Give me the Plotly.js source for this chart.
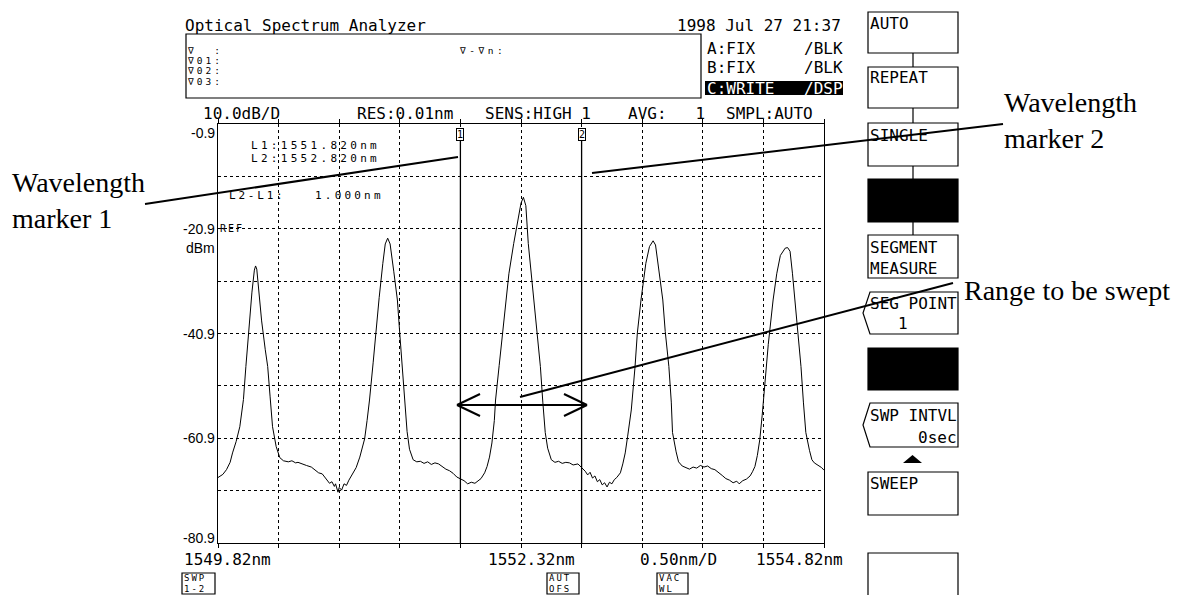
<!DOCTYPE html>
<html>
<head>
<meta charset="utf-8">
<script src="https://cdn.plot.ly/plotly-3.0.1.min.js"></script>
<style>html,body{margin:0;padding:0;background:#fff;}#chart{width:1181px;height:595px;}</style>
</head>
<body>
<div id="chart"></div>
<script>
// ---- data ----
const wavelength = [1549.82,1549.86,1549.89,1549.92,1549.94,1549.97,1550.00,1550.03,1550.05,1550.08,1550.10,1550.12,1550.13,1550.14,1550.16,1550.18,1550.21,1550.23,1550.25,1550.27,1550.30,1550.33,1550.36,1550.40,1550.43,1550.46,1550.48,1550.51,1550.55,1550.59,1550.62,1550.65,1550.68,1550.70,1550.72,1550.74,1550.76,1550.78,1550.79,1550.80,1550.81,1550.82,1550.84,1550.86,1550.88,1550.90,1550.93,1550.96,1550.99,1551.01,1551.03,1551.05,1551.07,1551.10,1551.12,1551.15,1551.18,1551.20,1551.22,1551.24,1551.27,1551.30,1551.32,1551.34,1551.36,1551.38,1551.40,1551.43,1551.46,1551.49,1551.52,1551.55,1551.58,1551.61,1551.64,1551.67,1551.70,1551.73,1551.76,1551.79,1551.82,1551.85,1551.88,1551.91,1551.94,1551.97,1551.99,1552.02,1552.04,1552.06,1552.08,1552.10,1552.11,1552.14,1552.17,1552.19,1552.22,1552.26,1552.29,1552.32,1552.34,1552.36,1552.38,1552.41,1552.43,1552.46,1552.48,1552.50,1552.52,1552.54,1552.57,1552.60,1552.63,1552.66,1552.69,1552.72,1552.75,1552.79,1552.82,1552.85,1552.87,1552.89,1552.91,1552.93,1552.95,1552.97,1552.99,1553.01,1553.03,1553.05,1553.07,1553.09,1553.11,1553.14,1553.16,1553.18,1553.20,1553.23,1553.26,1553.28,1553.31,1553.35,1553.38,1553.41,1553.43,1553.46,1553.49,1553.51,1553.54,1553.56,1553.57,1553.60,1553.62,1553.65,1553.68,1553.71,1553.74,1553.77,1553.80,1553.83,1553.86,1553.89,1553.92,1553.95,1553.98,1554.01,1554.04,1554.07,1554.10,1554.12,1554.15,1554.18,1554.21,1554.23,1554.25,1554.27,1554.29,1554.31,1554.33,1554.36,1554.40,1554.43,1554.46,1554.50,1554.52,1554.54,1554.56,1554.58,1554.61,1554.63,1554.65,1554.67,1554.70,1554.72,1554.74,1554.76,1554.78,1554.80,1554.82];
const powerDbm = [-68.4,-67.8,-66.9,-65.5,-63.7,-61.5,-58.7,-53.5,-47.2,-38.5,-33.0,-28.8,-28.0,-28.6,-33.5,-38.5,-44.0,-47.2,-53.0,-58.7,-62.5,-64.6,-65.2,-65.4,-65.2,-65.6,-65.5,-65.8,-66.1,-66.4,-66.9,-67.5,-67.7,-68.3,-68.7,-69.5,-69.2,-70.1,-69.6,-70.6,-71.2,-70.3,-70.8,-69.6,-69.9,-68.9,-67.8,-66.5,-64.5,-62.8,-61.0,-57.5,-53.6,-46.5,-40.8,-34.0,-27.5,-23.8,-22.7,-23.8,-29.0,-34.5,-41.0,-47.2,-53.5,-59.6,-63.0,-65.0,-65.4,-65.3,-65.7,-65.4,-65.9,-65.6,-65.8,-66.3,-66.8,-67.1,-67.6,-68.3,-68.7,-69.0,-69.6,-69.3,-69.5,-69.0,-68.6,-67.5,-66.3,-64.5,-61.8,-57.5,-53.6,-47.0,-40.8,-36.0,-29.5,-23.7,-19.5,-16.0,-14.9,-16.5,-23.7,-30.5,-35.0,-42.0,-47.2,-54.0,-59.8,-62.8,-65.0,-65.5,-65.3,-65.7,-65.5,-65.6,-66.0,-65.8,-66.5,-67.2,-67.9,-67.4,-68.5,-68.1,-69.2,-68.8,-69.8,-69.4,-70.2,-69.3,-69.6,-68.8,-68.4,-67.5,-65.8,-63.7,-60.5,-55.5,-47.5,-40.8,-34.5,-27.5,-24.3,-23.2,-24.0,-29.5,-34.5,-40.5,-47.2,-54.0,-59.8,-63.5,-65.4,-66.2,-66.5,-66.8,-66.4,-66.6,-66.1,-66.4,-66.2,-66.7,-66.9,-67.4,-68.0,-68.6,-68.9,-69.4,-69.1,-69.6,-69.0,-68.7,-68.1,-67.3,-66.3,-64.2,-61.2,-56.5,-50.4,-43.0,-34.5,-29.5,-26.0,-24.6,-24.5,-25.2,-29.5,-34.5,-41.0,-47.2,-54.0,-59.8,-63.2,-65.0,-65.6,-65.9,-66.2,-66.5,-67.0];
const markerWavelengths = [1551.82, 1552.82];
const markerNames = ['1', '2'];
const xRange = [1549.82, 1554.82];
const yRange = [-80.9, -0.9];
const yLabelVals = [-0.9, -20.9, -40.9, -60.9, -80.9];
const yLabelText = ['-0.9', '-20.9', '-40.9', '-60.9', '-80.9'];
const xLabelText = ['1549.82nm', '1552.32nm', '0.50nm/D', '1554.82nm'];
const markerReadout = ['L1:1551.820nm', 'L2:1552.820nm', 'L2-L1:', '1.000nm'];
const headerRow = ['10.0dB/D', 'RES:0.01nm', 'SENS:HIGH 1', 'AVG:   1', 'SMPL:AUTO'];
const traceModes = [['A:FIX', '/BLK'], ['B:FIX', '/BLK'], ['C:WRITE', '/DSP']];
const markerRows = ['\u2207  :', '\u220701:', '\u220702:', '\u220703:'];
const flagLabels = [['SWP', '1-2'], ['AUT', 'OFS'], ['VAC', 'WL']];
const softKeys = ['AUTO', 'REPEAT', 'SINGLE', '', 'SEGMENT<br>MEASURE', 'SEG POINT', '', 'SWP INTVL', 'SWEEP', ''];
const calloutText = ['Wavelength<br>marker 1', 'Wavelength<br>marker 2', 'Range to be swept'];

// ---- pixel layout helpers ----
const PL = 218, PR = 824, PT = 124, PB = 543;
const fx = p => (p - PL) / (PR - PL);
const fy = p => (PB - p) / (PB - PT);
const MONO = 'DejaVu Sans Mono';
const SANS = 'Liberation Sans';
const SERIF = 'Liberation Serif';
const spaced = (t, ls) => '<span style="letter-spacing:' + ls + 'px">' + t + '</span>';

const ann = [];
function txt(text, x, y, o) {
  o = o || {};
  ann.push(Object.assign({
    xref: 'paper', yref: 'paper', x: fx(x), y: fy(y), text: text, showarrow: false,
    xanchor: o.xa || 'left', yanchor: o.ya || 'middle', align: o.align || 'left',
    borderpad: o.pad === undefined ? 1 : o.pad,
    font: {family: o.family || MONO, size: o.size || 16, color: o.color || '#000'}
  }, o.extra || {}));
}
const shapes = [];
function rect(x0, y0, x1, y1, fill, w) {
  shapes.push({type: 'rect', xref: 'paper', yref: 'paper', x0: fx(x0), x1: fx(x1), y0: fy(y0), y1: fy(y1),
    line: {color: '#000', width: w === undefined ? 1.2 : w}, fillcolor: fill || 'rgba(0,0,0,0)', layer: 'above'});
}
function seg(x0, y0, x1, y1, w) {
  shapes.push({type: 'line', xref: 'paper', yref: 'paper', x0: fx(x0), x1: fx(x1), y0: fy(y0), y1: fy(y1),
    line: {color: '#000', width: w || 1.2}, layer: 'above'});
}
function poly(pts, fill, w) {
  let d = 'M ' + pts.map(p => fx(p[0]) + ',' + fy(p[1])).join(' L ') + ' Z';
  shapes.push({type: 'path', xref: 'paper', yref: 'paper', path: d,
    line: {color: '#000', width: w === undefined ? 1.2 : w}, fillcolor: fill || 'rgba(0,0,0,0)', layer: 'above'});
}

// header
txt('Optical Spectrum Analyzer', 183, 25);
txt('1998 Jul 27 21:37', 843, 25, {xa: 'right'});
rect(186, 34, 701, 98);
[50, 60.5, 71, 81.5].forEach((y, i) => txt(spaced(markerRows[i], 3), 186, y, {size: 9.5, pad: 0}));
txt(spaced('\u2207-\u2207n:', 3.5), 458, 50, {size: 9.5, pad: 0});
txt(traceModes[0][0], 705, 48); txt(traceModes[0][1], 845, 48, {xa: 'right'});
txt(traceModes[1][0], 705, 68); txt(traceModes[1][1], 845, 68, {xa: 'right'});
rect(705, 81, 843, 95, '#000', 0);
txt(traceModes[2][0], 705, 88, {color: '#fff'}); txt(traceModes[2][1], 845, 88, {xa: 'right', color: '#fff'});
txt(headerRow[0], 201, 113);
txt(headerRow[1], 355, 113);
txt(headerRow[2], 483, 113);
txt(headerRow[3], 626, 113);
txt(headerRow[4], 815, 113, {xa: 'right'});

// y labels
const yPixOffsets = [9, 0, 0, 0, -5];
yLabelVals.forEach((v, i) => {
  ann.push({xref: 'paper', yref: 'y', x: fx(217), y: v, yshift: -yPixOffsets[i], text: yLabelText[i], showarrow: false,
    xanchor: 'right', yanchor: 'middle', font: {family: SANS, size: 14, color: '#000'}});
});
txt('dBm', 217, 248, {xa: 'right', family: SANS, size: 14});
txt(spaced('REF', 2), 219, 228, {size: 10, pad: 0});

// marker readouts
txt(spaced(markerReadout[0], 3.3), 250, 145, {size: 11, pad: 0});
txt(spaced(markerReadout[1], 3.3), 250, 158, {size: 11, pad: 0});
txt(spaced(markerReadout[2], 2.8), 228, 195, {size: 11, pad: 0});
txt(spaced(markerReadout[3], 3.2), 314, 195, {size: 11, pad: 0});

// marker labels
markerWavelengths.forEach((w, i) => {
  ann.push({xref: 'x', yref: 'paper', x: w, y: fy(134), text: markerNames[i], showarrow: false,
    xanchor: 'center', yanchor: 'middle', bgcolor: '#fff', bordercolor: '#000', borderwidth: 1, borderpad: 0,
    font: {family: MONO, size: 10, color: '#000'}});
});

// x labels
txt(xLabelText[0], 182, 559);
txt(xLabelText[1], 486, 559);
txt(xLabelText[2], 638, 559);
txt(xLabelText[3], 845, 559, {xa: 'right'});
// small boxed flags
[[182, 215], [547, 579], [657, 688]].forEach((b, i) => {
  rect(b[0], 573, b[1], 594);
  txt(spaced(flagLabels[i][0], 2), b[0] + 1, 578, {size: 9, pad: 0});
  txt(spaced(flagLabels[i][1], 2), b[0] + 1, 588.5, {size: 9, pad: 0});
});

// soft keys
const BX0 = 868, BX1 = 958, BXC = 913;
rect(BX0, 12, BX1, 53); txt(softKeys[0], 868, 23);
seg(BXC, 53, BXC, 67);
rect(BX0, 67, BX1, 108); txt(softKeys[1], 868, 78);
seg(BXC, 108, BXC, 123);
rect(BX0, 123, BX1, 166); txt(softKeys[2], 868, 135);
seg(BXC, 166, BXC, 179);
rect(BX0, 179, BX1, 222, '#000');
seg(BXC, 222, BXC, 235);
rect(BX0, 235, BX1, 278); txt(softKeys[4], 868, 257.5);
poly([[BX1, 292], [870, 292], [863, 313], [870, 334], [BX1, 334]]);
txt(softKeys[5], 868, 303); txt('1', 903, 323, {xa: 'center'});
rect(BX0, 348, BX1, 390, '#000');
poly([[BX1, 403], [870, 403], [863, 425], [870, 447], [BX1, 447]]);
txt(softKeys[7], 868, 415); txt('0sec', 959, 437, {xa: 'right'});
poly([[903, 463], [912.5, 455], [922, 463]], '#000', 0);
rect(BX0, 472, BX1, 515); txt(softKeys[8], 868, 483);
rect(BX0, 553, BX1, 597);

// callouts
txt(calloutText[0], 10, 200, {family: SERIF, size: 28});
txt(calloutText[1], 1002, 121, {family: SERIF, size: 28});
txt(calloutText[2], 962, 290, {family: SERIF, size: 28});
seg(145, 204, 458, 157, 2);
seg(592, 173, 1003, 124, 2);
seg(520, 397, 953, 283, 2);
// double arrow
seg(457, 405, 587, 405, 2);
seg(457, 405, 480, 394, 2); seg(457, 405, 480, 416, 2);
seg(587, 405, 564, 394, 2); seg(587, 405, 564, 416, 2);

// marker lines
markerWavelengths.forEach(w => {
  shapes.push({type: 'line', xref: 'x', yref: 'paper', x0: w, x1: w, y0: 0, y1: fy(141), line: {color: '#000', width: 1.3}, layer: 'above'});
});

const trace = {x: wavelength, y: powerDbm, type: 'scatter', mode: 'lines', line: {color: '#000', width: 1}, hoverinfo: 'skip'};

const layout = {
  width: 1181, height: 595,
  margin: {l: PL, r: 1181 - PR, t: PT, b: 595 - PB, pad: 0},
  paper_bgcolor: '#fff', plot_bgcolor: '#fff', showlegend: false,
  xaxis: {range: xRange, tick0: xRange[0], dtick: 0.5, showticklabels: false, ticks: 'outside', ticklen: 4, tickcolor: '#000',
    showgrid: true, gridcolor: '#000', griddash: 'dot', gridwidth: 1, zeroline: false,
    showline: true, linecolor: '#000', linewidth: 1.3, mirror: 'ticks', fixedrange: true},
  yaxis: {range: yRange, tick0: yRange[0], dtick: 10, showticklabels: false, ticks: '',
    showgrid: true, gridcolor: '#000', griddash: 'dot', gridwidth: 1, zeroline: false,
    showline: true, linecolor: '#000', linewidth: 1.3, mirror: true, fixedrange: true},
  annotations: ann, shapes: shapes
};
Plotly.newPlot('chart', [trace], layout, {staticPlot: true, displayModeBar: false});
</script>
</body>
</html>
